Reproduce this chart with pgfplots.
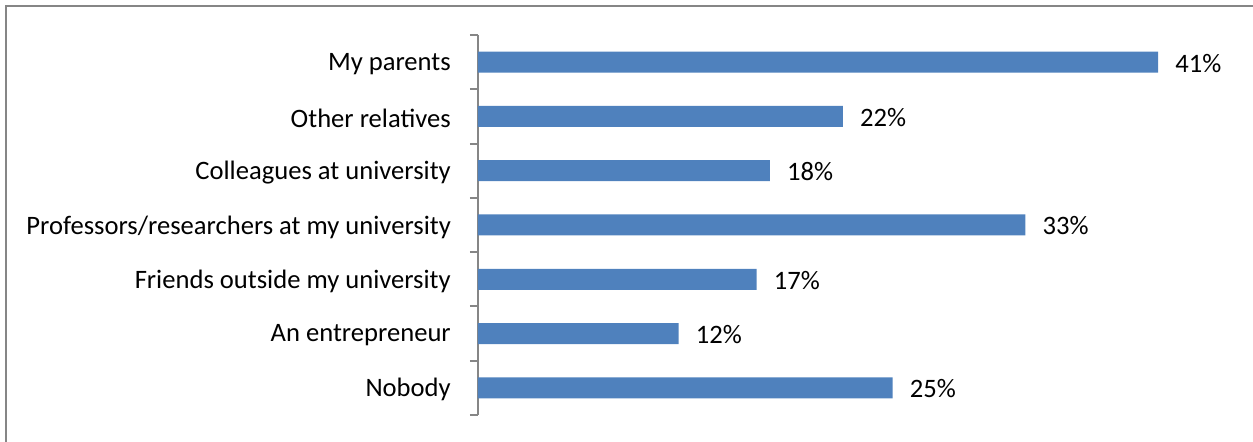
\documentclass[border=0pt]{standalone}
\usepackage{pgfplots}
\pgfplotsset{compat=1.18}
\usepackage{fontspec}
\setmainfont{Carlito}
\definecolor{barblue}{HTML}{4F81BD}
\definecolor{axgray}{HTML}{868686}

\begin{document}
\fontsize{13.3pt}{16pt}\selectfont
\begin{tikzpicture}
% 1 px of the reference = 0.5pt
\path[use as bounding box] (0,0) rectangle (626.5pt,221pt);
\draw[axgray, line width=1pt] (2.75pt,0) -- (2.75pt,218pt) -- (626.5pt,218pt);
\begin{axis}[
	at={(239pt,13.5pt)}, anchor=south west,
	scale only axis,
	width=373.25pt, height=190pt,
	xbar, bar width=10.5pt,
	xmin=0, xmax=45,
	ymin=0.5, ymax=7.5,
	axis x line=none,
	axis y line*=left,
	y axis line style={axgray, line width=1pt, -},
	ytick={1,...,7},
	yticklabels={Nobody, An entrepreneur, Friends outside my university,
		Professors/researchers at my university, Colleagues at university,
		Other relatives, My parents},
	major tick length=0pt,
	minor ytick={0.5,1.5,...,7.5},
	minor tick length=4pt,
	tick align=outside,
	minor tick style={axgray, line width=1pt},
	yticklabel style={xshift=-9pt, yshift=-1pt, font=\fontsize{13.3pt}{16pt}\selectfont},
	/pgf/number format/assume math mode=true,
	nodes near coords={\pgfmathprintnumber[fixed, precision=0]{\pgfplotspointmeta}\%},
	every node near coord/.append style={xshift=4pt, yshift=-0.5pt, font=\fontsize{13.3pt}{16pt}\selectfont, black},
	clip=false,
]
\addplot[fill=barblue, draw=none] coordinates {
	(25,1) (12.1,2) (16.8,3) (33,4) (17.6,5) (22,6) (41,7)
};
\end{axis}
\end{tikzpicture}
\end{document}
